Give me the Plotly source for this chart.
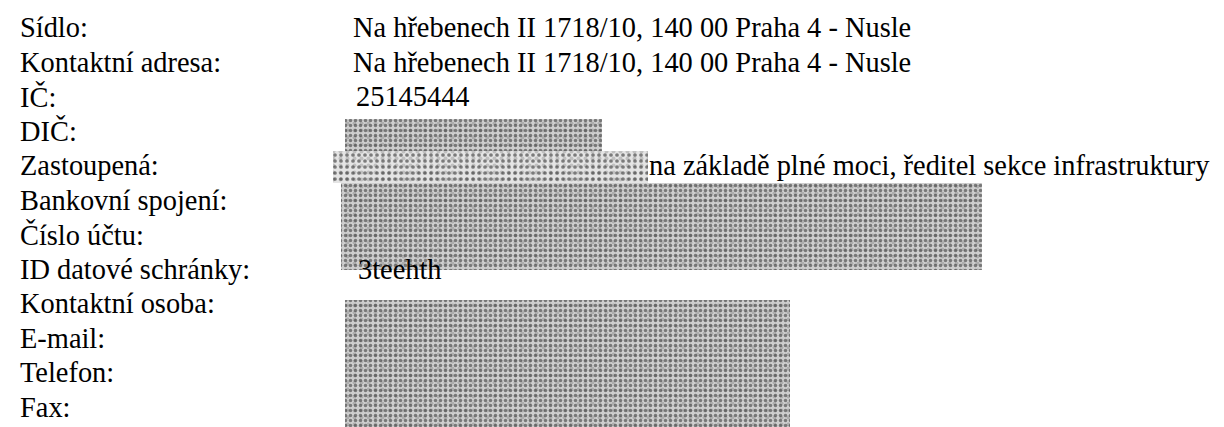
import plotly.graph_objects as go

W, H = 1224, 427

# Row labels (left column) and their values (right column)
labels = ["Sídlo:", "Kontaktní adresa:", "IČ:", "DIČ:", "Zastoupená:",
          "Bankovní spojení:", "Číslo účtu:", "ID datové schránky:",
          "Kontaktní osoba:", "E-mail:", "Telefon:", "Fax:"]
values = ["Na hřebenech II 1718/10, 140 00 Praha 4 - Nusle",
          "Na hřebenech II 1718/10, 140 00 Praha 4 - Nusle",
          "25145444", "",
          "na základě plné moci, ředitel sekce infrastruktury",
          "", "", "3teehth", "", "", "", ""]

# Redacted (noise-covered) areas: left, right, top, bottom in page pixels
redact_x0 = [337, 325, 333, 337]
redact_x1 = [594, 640, 974, 782]
redact_y0 = [111, 143, 175, 292]
redact_y1 = [143, 175, 262, 427]

FONT = "Liberation Serif"
FS = 28.4
ROW0, ROWSTEP = 29.5, 34.5      # baseline of first row, line spacing
LABEL_X = 10
VALUE_X = [343, 343, 346, 343, 639, 343, 343, 348, 343, 343, 343, 343]

fig = go.Figure()

bar_x = [(a + b) / 2 for a, b in zip(redact_x0, redact_x1)]
bar_w = [b - a for a, b in zip(redact_x0, redact_x1)]
bar_h = [b - a for a, b in zip(redact_y0, redact_y1)]

# redaction blocks as patterned bars (base speckle)
fig.add_trace(go.Bar(
    x=bar_x, width=bar_w, base=redact_y0, y=bar_h,
    marker=dict(color="#bdbdbd", line_width=0,
                pattern=dict(shape=".",
                             fgcolor=["#222222", "#111111", "#222222", "#222222"],
                             bgcolor=["#cecece", "#e4e4e4", "#cecece", "#cecece"],
                             size=[5, 6, 5, 5],
                             solidity=[0.38, 0.3, 0.38, 0.38])),
    hoverinfo="skip", showlegend=False,
))
# second, coarser speckle layer to break up the regular grid
fig.add_trace(go.Bar(
    x=bar_x, width=bar_w, base=redact_y0, y=bar_h,
    marker=dict(color="rgba(0,0,0,0)", line_width=0,
                pattern=dict(shape=".", fillmode="overlay",
                             fgcolor="rgba(20,20,20,0.35)",
                             size=7, solidity=0.25)),
    hoverinfo="skip", showlegend=False,
))

annotations = []
for i, (lab, val) in enumerate(zip(labels, values)):
    yc = ROW0 + ROWSTEP * i - 0.3375 * FS
    annotations.append(dict(x=LABEL_X, y=yc, xref="x", yref="y", text=lab,
                            showarrow=False, xanchor="left", yanchor="middle",
                            font=dict(family=FONT, size=FS, color="black")))
    if val:
        annotations.append(dict(x=VALUE_X[i], y=yc, xref="x", yref="y", text=val,
                                showarrow=False, xanchor="left", yanchor="middle",
                                font=dict(family=FONT, size=FS, color="black")))

fig.update_layout(
    width=W, height=H,
    margin=dict(l=0, r=0, t=0, b=0),
    paper_bgcolor="white", plot_bgcolor="white",
    barmode="overlay",
    annotations=annotations,
    xaxis=dict(range=[0, W], visible=False, fixedrange=True),
    yaxis=dict(range=[H, 0], visible=False, fixedrange=True),
    showlegend=False,
)

fig.write_html("out.html")
